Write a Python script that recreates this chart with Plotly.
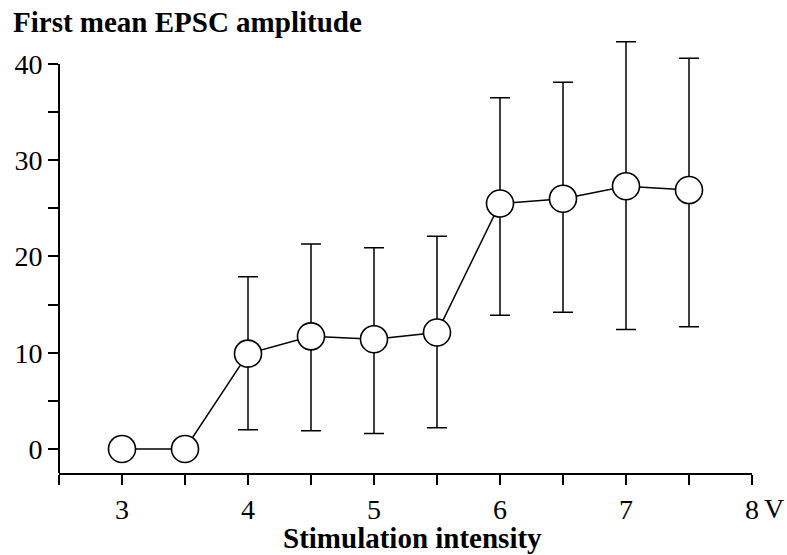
import plotly.graph_objects as go

# Stimulation intensity (V) and first mean EPSC amplitude with error limits
intensity = [3.0, 3.5, 4.0, 4.5, 5.0, 5.5, 6.0, 6.5, 7.0, 7.5]
amp_mean = [0.0, 0.0, 9.9, 11.7, 11.4, 12.1, 25.5, 26.0, 27.3, 26.9]
amp_upper = [0.0, 0.0, 17.9, 21.3, 20.9, 22.1, 36.5, 38.1, 42.3, 40.6]
amp_lower = [0.0, 0.0, 2.0, 1.9, 1.6, 2.2, 13.9, 14.2, 12.4, 12.7]

x_tick_vals = [3, 4, 5, 6, 7, 8]
x_tick_text = ["3", "4", "5", "6", "7", "8"]
y_tick_vals = [0, 10, 20, 30, 40]
y_tick_text = ["0", "10", "20", "30", "40"]

err_plus = [u - m for u, m in zip(amp_upper, amp_mean)]
err_minus = [m - l for m, l in zip(amp_mean, amp_lower)]
has_err = [p > 0 or q > 0 for p, q in zip(err_plus, err_minus)]

SERIF = "Liberation Serif"
Y_AXIS_TOP = 40.0     # the drawn y axis stops here; plot area leaves headroom above
Y_RANGE = [-2.5, 43.01]

fig = go.Figure()
fig.add_trace(go.Scatter(
    x=intensity,
    y=amp_mean,
    mode="lines+markers",
    line=dict(color="black", width=1.5),
    marker=dict(size=27, color="white", line=dict(color="black", width=1.6)),
    error_y=dict(
        type="data",
        symmetric=False,
        array=[p if h else None for p, h in zip(err_plus, has_err)],
        arrayminus=[q if h else None for q, h in zip(err_minus, has_err)],
        color="black",
        thickness=1.5,
        width=10,
    ),
    cliponaxis=False,
    showlegend=False,
))

fig.update_layout(
    width=787,
    height=555,
    margin=dict(l=59, r=35, t=35, b=82),
    paper_bgcolor="white",
    plot_bgcolor="white",
    font=dict(family=SERIF, color="black"),
    title=dict(
        text="<b>First mean EPSC amplitude</b>",
        font=dict(family=SERIF, size=29, color="black"),
        xref="container", x=13 / 787, xanchor="left",
        yref="container", y=1 - 12 / 555, yanchor="top",
    ),
    xaxis=dict(
        range=[2.5, 8.0],
        tickmode="array",
        tickvals=x_tick_vals,
        ticktext=x_tick_text,
        ticks="outside",
        ticklen=10,
        tickwidth=1.5,
        tickcolor="black",
        minor=dict(dtick=0.5, tick0=0, ticks="outside", ticklen=10,
                   tickwidth=1.5, tickcolor="black", showgrid=False),
        showline=True,
        linecolor="black",
        linewidth=2,
        showgrid=False,
        zeroline=False,
        tickfont=dict(family=SERIF, size=28, color="black"),
    ),
    yaxis=dict(
        range=Y_RANGE,
        tickmode="array",
        tickvals=y_tick_vals,
        ticktext=y_tick_text,
        ticks="outside",
        ticklen=10,
        tickwidth=1.5,
        tickcolor="black",
        minor=dict(dtick=5, tick0=0, ticks="outside", ticklen=10,
                   tickwidth=1.5, tickcolor="black", showgrid=False),
        showline=False,
        showgrid=False,
        zeroline=False,
        tickfont=dict(family=SERIF, size=28, color="black"),
    ),
    shapes=[
        # y axis line, running from the bottom of the range up to 40
        dict(type="line", xref="paper", yref="y",
             x0=0, x1=0, y0=Y_RANGE[0], y1=Y_AXIS_TOP,
             line=dict(color="black", width=2)),
    ],
    annotations=[
        dict(
            text="<b>Stimulation intensity</b>",
            xref="paper", yref="paper",
            x=(412 - 59) / 693, y=0,
            xanchor="center", yanchor="top", yshift=-47,
            showarrow=False,
            font=dict(family=SERIF, size=29, color="black"),
        ),
        dict(
            text="V",
            xref="x", yref="paper",
            x=8.0, y=0,
            xanchor="left", yanchor="top", xshift=10, yshift=-18,
            showarrow=False,
            font=dict(family=SERIF, size=28, color="black"),
        ),
    ],
)

fig.write_html("out.html")
